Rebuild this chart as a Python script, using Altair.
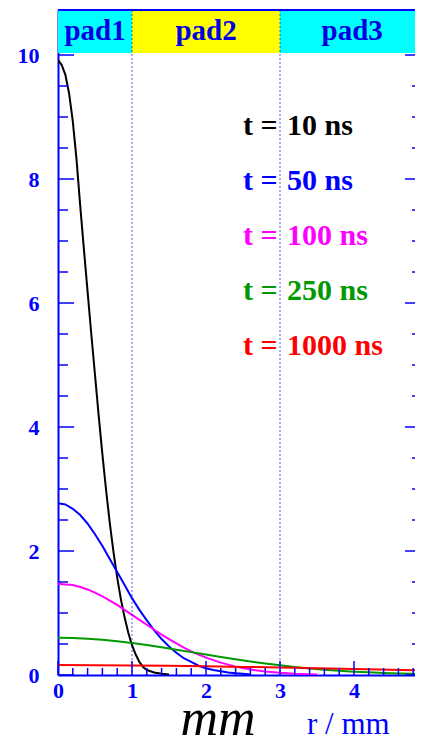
import altair as alt
import pandas as pd

# ---------------- data ----------------
series_prefix = "t ="
series_labels = ["10 ns", "50 ns", "100 ns", "250 ns", "1000 ns"]
series_colors = ["#000000", "#0000FF", "#FF00FF", "#009900", "#FF0000"]

r_10 = [0.0, 0.05, 0.1, 0.15, 0.2, 0.25, 0.3, 0.35, 0.4, 0.45, 0.5, 0.55, 0.6, 0.65, 0.7,
        0.75, 0.8, 0.85, 0.9, 0.95, 1.0, 1.05, 1.1, 1.15, 1.2, 1.3, 1.4, 1.5]
v_10 = [9.92, 9.84, 9.68, 9.38, 8.93, 8.32, 7.57, 6.87, 6.18, 5.50, 4.84, 4.18, 3.56, 2.98,
        2.45, 1.98, 1.57, 1.22, 0.93, 0.68, 0.48, 0.33, 0.21, 0.13, 0.08, 0.04, 0.02, 0.01]

r_50 = [0.0, 0.1, 0.2, 0.3, 0.4, 0.5, 0.6, 0.7, 0.8, 0.9, 1.0, 1.1, 1.2, 1.3, 1.4, 1.5,
        1.6, 1.7, 1.8, 1.9, 2.0, 2.1, 2.2, 2.3, 2.4, 2.5, 2.6]
v_50 = [2.77, 2.75, 2.68, 2.58, 2.44, 2.27, 2.08, 1.87, 1.66, 1.45, 1.24, 1.05, 0.88, 0.72,
        0.58, 0.46, 0.36, 0.27, 0.21, 0.15, 0.11, 0.08, 0.06, 0.04, 0.03, 0.02, 0.01]

r_100 = [0.0, 0.1, 0.2, 0.3, 0.4, 0.5, 0.6, 0.7, 0.8, 0.9, 1.0, 1.1, 1.2, 1.3, 1.4, 1.5,
         1.6, 1.7, 1.8, 1.9, 2.0, 2.2, 2.4, 2.6, 2.8, 3.0, 3.2, 3.5]
v_100 = [1.47, 1.46, 1.45, 1.42, 1.38, 1.33, 1.27, 1.20, 1.13, 1.05, 0.97, 0.89, 0.81, 0.73,
         0.65, 0.58, 0.51, 0.44, 0.38, 0.33, 0.28, 0.20, 0.135, 0.09, 0.057, 0.035, 0.021, 0.009]

r_250 = [0.0, 0.2, 0.4, 0.6, 0.8, 1.0, 1.2, 1.4, 1.6, 1.8, 2.0, 2.2, 2.4, 2.6, 2.8, 3.0,
         3.2, 3.4, 3.6, 3.8, 4.0, 4.2, 4.4, 4.6, 4.8, 5.0]
v_250 = [0.60, 0.596, 0.586, 0.568, 0.545, 0.516, 0.483, 0.447, 0.409, 0.369, 0.329, 0.29,
         0.253, 0.218, 0.185, 0.156, 0.129, 0.106, 0.086, 0.069, 0.054, 0.043, 0.033, 0.025,
         0.019, 0.014]

r_1000 = [0.0, 0.5, 1.0, 1.5, 2.0, 2.5, 3.0, 3.5, 4.0, 4.5, 5.0]
v_1000 = [0.160, 0.159, 0.155, 0.149, 0.141, 0.131, 0.120, 0.108, 0.096, 0.084, 0.072]

series_r = [r_10, r_50, r_100, r_250, r_1000]
series_v = [v_10, v_50, v_100, v_250, v_1000]

pad_names = ["pad1", "pad2", "pad3"]
pad_start = [0.0, 1.0, 3.0]
pad_end = [1.0, 3.0, 5.0]
pad_colors = ["#00FFFF", "#FFFF00", "#00FFFF"]

x_tick_labels = [0, 1, 2, 3, 4]
x_minor = [0.2, 0.4, 0.6, 0.8, 1.2, 1.4, 1.6, 1.8, 2.2, 2.4, 2.6, 2.8,
           3.2, 3.4, 3.6, 3.8, 4.2, 4.4, 4.6, 4.8]
y_tick_labels = [0, 2, 4, 6, 8, 10]
y_minor = [0.5, 1, 1.5, 2.5, 3, 3.5, 4.5, 5, 5.5, 6.5, 7, 7.5, 8.5, 9, 9.5]

W = 357
H = 665
X_MAX = W / 74.0
Y_MAX = 10.726
BLUE = "#0000FF"
FONT = "Liberation Serif"

xscale = alt.Scale(domain=[0, X_MAX], nice=False)
yscale = alt.Scale(domain=[0, Y_MAX], nice=False)
xaxis = alt.Axis(values=x_tick_labels, format="d", labelFont=FONT, labelFontWeight="bold",
                 labelFontSize=22, labelColor=BLUE, domainColor=BLUE, domainWidth=2,
                 ticks=False, tickSize=0, grid=False, labelPadding=5, title=None,
                 labelFlush=False, labelOverlap=False)
yaxis = alt.Axis(values=y_tick_labels, format="d", labelFont=FONT, labelFontWeight="bold",
                 labelFontSize=22, labelColor=BLUE, domainColor=BLUE, domainWidth=2,
                 ticks=False, tickSize=0, grid=False, labelPadding=19, title=None,
                 labelFlush=False, labelOverlap=False)


def X(field):
    return alt.X(field, type="quantitative", scale=xscale, axis=xaxis)


def Y(field):
    return alt.Y(field, type="quantitative", scale=yscale, axis=yaxis)


layers = []

# pad band
pads = pd.DataFrame({"name": pad_names, "start": pad_start, "end": pad_end, "color": pad_colors})
pads["mid"] = [(s + min(e, 4.95)) / 2 for s, e in zip(pad_start, pad_end)]
layers.append(alt.Chart(pads).mark_rect(clip=True).encode(
    x=X("start"), x2="end", y=alt.value(0), y2=alt.value(43),
    color=alt.Color("color:N", scale=None)))
layers.append(alt.Chart(pads).mark_text(font=FONT, fontWeight="bold", fontSize=29,
                                        baseline="alphabetic", align="center",
                                        color="#0000E0").encode(
    x=X("mid"), y=alt.value(30), text="name:N"))

# curves
for col, rs, vs in zip(series_colors, series_r, series_v):
    df = pd.DataFrame({"r": rs, "v": vs})
    layers.append(alt.Chart(df).mark_line(clip=True, strokeWidth=2, color=col).encode(
        x=X("r"), y=Y("v")))

# dotted pad boundaries
bounds = pd.DataFrame({"b": pad_start[1:]})
layers.append(alt.Chart(bounds).mark_rule(color=BLUE, strokeWidth=1, strokeDash=[2, 2],
                                          opacity=0.65).encode(
    x=X("b"), y=alt.value(0), y2=alt.value(H)))

# ticks (inside the frame)
ymaj = pd.DataFrame({"y": y_tick_labels})
ymin = pd.DataFrame({"y": y_minor})
xmaj = pd.DataFrame({"x": x_tick_labels})
xmin = pd.DataFrame({"x": x_minor})
tick = dict(color=BLUE, strokeWidth=1.5)
layers.append(alt.Chart(ymaj).mark_rule(**tick).encode(y=Y("y"), x=alt.value(0), x2=alt.value(16)))
layers.append(alt.Chart(ymin).mark_rule(**tick).encode(y=Y("y"), x=alt.value(0), x2=alt.value(10)))
layers.append(alt.Chart(ymaj).mark_rule(**tick).encode(y=Y("y"), x=alt.value(W - 10), x2=alt.value(W)))
layers.append(alt.Chart(ymin).mark_rule(**tick).encode(y=Y("y"), x=alt.value(W - 3), x2=alt.value(W)))
layers.append(alt.Chart(xmaj).mark_rule(**tick).encode(x=X("x"), y=alt.value(H), y2=alt.value(H - 14)))
layers.append(alt.Chart(xmin).mark_rule(**tick).encode(x=X("x"), y=alt.value(H), y2=alt.value(H - 7)))

# top frame line
layers.append(alt.Chart(ymaj).mark_rule(color=BLUE, strokeWidth=2).encode(
    x=alt.value(0), x2=alt.value(W), y=alt.value(0)))

# legend texts: "t =" and the time value
for i, (lab, col) in enumerate(zip(series_labels, series_colors)):
    ty = 125 + 55 * i
    layers.append(alt.Chart(pd.DataFrame({"t": [series_prefix]})).mark_text(
        font=FONT, fontWeight="bold", fontSize=30, align="left", baseline="alphabetic",
        color=col).encode(x=alt.value(185), y=alt.value(ty), text="t:N"))
    layers.append(alt.Chart(pd.DataFrame({"t": [lab]})).mark_text(
        font=FONT, fontWeight="bold", fontSize=30, align="left", baseline="alphabetic",
        color=col).encode(x=alt.value(229), y=alt.value(ty), text="t:N"))

# bottom texts
layers.append(alt.Chart(pd.DataFrame({"t": ["mm"]})).mark_text(
    font=FONT, fontStyle="italic", fontSize=52, align="center", baseline="alphabetic",
    color="#000000").encode(x=alt.value(160), y=alt.value(725), text="t:N"))
layers.append(alt.Chart(pd.DataFrame({"t": ["r / mm"]})).mark_text(
    font=FONT, fontSize=31, align="left", baseline="alphabetic",
    color=BLUE).encode(x=alt.value(249), y=alt.value(724), text="t:N"))

chart = alt.layer(*layers).properties(
    width=W, height=H,
    padding={"left": 50, "top": 2, "right": 0, "bottom": 61},
    autosize=alt.AutoSizeParams(type="none"),
    background="white",
).configure_view(stroke=None)

chart.save("out.html", embed_options={"renderer": "svg", "actions": False})
